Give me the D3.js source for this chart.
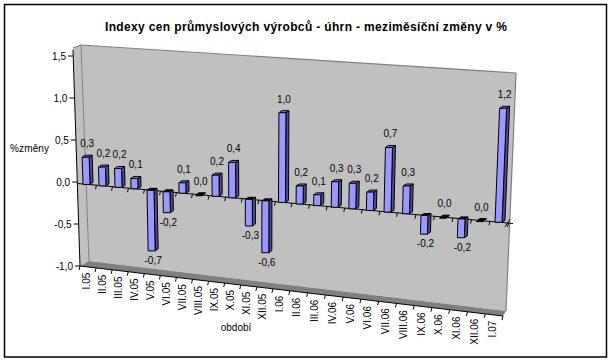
<!DOCTYPE html>
<html><head><meta charset="utf-8">
<script src="https://cdnjs.cloudflare.com/ajax/libs/d3/7.8.5/d3.min.js"></script>
<style>html,body{margin:0;padding:0;background:#fff}svg{display:block}text{font-family:"Liberation Sans",Arial,sans-serif;fill:#000}</style>
</head><body><svg id="c" width="613" height="362"></svg>
<script>
const categories=["I.05","II.05","III.05","IV.05","V.05","VI.05","VII.05","VIII.05","IX.05","X.05","XI.05","XII.05","I.06","II.06","III.06","IV.06","V.06","VI.06","VII.06","VIII.06","IX.06","X.06","XI.06","XII.06","I.07"];
const values=[0.32,0.22,0.22,0.12,-0.7,-0.24,0.12,0.0,0.24,0.4,-0.3,-0.58,1.0,0.2,0.12,0.28,0.28,0.2,0.7,0.3,-0.2,0.0,-0.2,0.0,1.2];
const yTicks=[1.5,1.0,0.5,0.0,-0.5,-1.0];
const title="Indexy cen průmyslových výrobců - úhrn - meziměsíční změny v %";
const fmt=v=>v.toFixed(1).replace(".",",");

const svg=d3.select("#c");
// projection of the 3D box
const yLeft=d3.scaleLinear().domain([-1,1.5]).range([266,56]);
const xLeft=d3.scaleLinear().domain([-1,1.5]).range([80,73]);
const center=d3.scaleLinear().domain([0,6,12,18,24]).range([88,184,283.5,389,500]);
const floorX=d3.scaleLinear().domain([0,12.5,25]).range([80,281,503]);
const floorY=d3.scaleLinear().domain([80,503]).range([266,316]);
const zeroY=d3.scaleLinear().domain([78,513]).range([183.5,223.5]);
const unit=d3.scaleLinear().domain([88,500]).range([85,95]);
const lean=d3.scaleLinear().domain([80,510]).range([-2.8,4]);

const pts=a=>a.map(p=>p.join(",")).join(" ");
const poly=(a,fill,stroke,sw)=>svg.append("polygon").attr("points",pts(a)).attr("fill",fill).attr("stroke",stroke||"none").attr("stroke-width",sw||1);
const line=(x1,y1,x2,y2,c,w)=>svg.append("line").attr("x1",x1).attr("y1",y1).attr("x2",x2).attr("y2",y2).attr("stroke",c||"#000").attr("stroke-width",w||1);

svg.append("rect").attr("x",0).attr("y",0).attr("width",613).attr("height",362).attr("fill","#fff");
svg.append("rect").attr("x",4.5).attr("y",4.5).attr("width",602).attr("height",352.5).attr("fill","#fff").attr("stroke","#000").attr("stroke-width",1.5);

// walls and floor
poly([[73,48],[81,45],[89,261],[80,266]],"#c0c0c0");
poly([[81,45],[516,73],[506,311],[89,261]],"#c0c0c0");
poly([[89,261],[506,311],[503,316],[80,266]],"#808080");
svg.append("polyline").attr("points",pts([[73,48],[81,45],[516,73],[506,311]])).attr("fill","none").attr("stroke","#808080").attr("stroke-width",1.2);
line(81,45,89,261,"#808080",1);

// value axis
line(xLeft(1.5),yLeft(1.5)-6,xLeft(-1),yLeft(-1),"#000",1);
yTicks.forEach(v=>{
  const x=xLeft(v),y=yLeft(v);
  line(x-5,y,x,y);
  svg.append("text").attr("x",x-7).attr("y",y+3.5).attr("text-anchor","end").attr("font-size",10).text(fmt(v));
});

// floor axis
line(80,266,503,316);
d3.range(26).forEach(i=>{
  const x=floorX(i),y=floorY(x);
  line(x,y,x-1,y+4);
});
categories.forEach((c,i)=>{
  const x=(floorX(i)+floorX(i+1))/2-2,y=floorY(x)+6;
  svg.append("text").attr("transform",`translate(${x+3.5},${y}) rotate(-90)`).attr("text-anchor","end").attr("font-size",10).text(c);
});

// zero plane line
line(78,zeroY(78),513,zeroY(513));
d3.range(25).forEach(i=>{
  const x=center(i)+8.5,y=zeroY(x);
  line(x,y,x-1,y+4);
});
line(505,zeroY(505)+4,510,zeroY(510)-4,"#000",1);

// bars
const dx=3,dy=2;
categories.forEach((c,i)=>{
  const v=values[i],cx=center(i),b=zeroY(cx),k=unit(cx);
  const l=cx-5,m=cx+2,t=b-v*k,s=lean(cx)*v;
  const yTop=Math.min(b,t),yBot=Math.max(b,t),sTop=v>=0?s:0,sBot=v>=0?0:s;
  if(v!==0){
    poly([[m+sTop,yTop],[m+dx+sTop,yTop-dy],[m+dx+sBot,yBot-dy],[m+sBot,yBot]],"#4c4c99","#000");
    poly([[l+sTop,yTop],[m+sTop,yTop],[m+dx+sTop,yTop-dy],[l+dx+sTop,yTop-dy]],v>0?"#7f7fd6":"#111","#000");
    poly([[l+sTop,yTop],[m+sTop,yTop],[m+sBot,yBot],[l+sBot,yBot]],"#9999ff","#000");
  } else {
    poly([[l,b+1],[m,b+1],[m+dx,b-2],[l+dx,b-2]],"#000","#000");
  }
  const ly=v>0?t-10:(v<0?t+13:b-10);
  svg.append("text").attr("x",cx+s).attr("y",ly).attr("text-anchor","middle").attr("font-size",10).text(fmt(v));
});

svg.append("text").attr("x",306).attr("y",31).attr("text-anchor","middle").attr("font-size",12).attr("font-weight","bold").attr("textLength",402).attr("lengthAdjust","spacing").text(title);
svg.append("text").attr("x",10).attr("y",152).attr("font-size",10).attr("textLength",39).text("%změny");
svg.append("text").attr("x",236).attr("y",331).attr("text-anchor","middle").attr("font-size",10).text("období");
</script></body></html>
